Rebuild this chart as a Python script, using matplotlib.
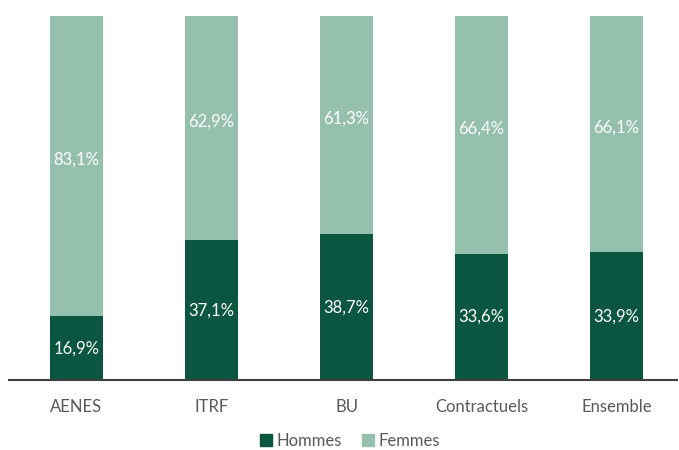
import matplotlib
matplotlib.use("Agg")
import matplotlib.pyplot as plt
from matplotlib.patches import Patch

categories = ["AENES", "ITRF", "BU", "Contractuels", "Ensemble"]
hommes = [16.9, 37.1, 38.7, 33.6, 33.9]
femmes = [83.1, 62.9, 61.3, 66.4, 66.1]

c_h = "#0B5641"
c_f = "#96C0AE"

plt.rcParams['font.family'] = ['Lato', 'DejaVu Sans']

fig = plt.figure(figsize=(6.79, 4.5), dpi=100)
ax = fig.add_axes([9/679, 70/450, 668/679, 364/450])
x = list(range(len(categories)))
w = 0.393
ax.bar(x, hommes, width=w, color=c_h)
ax.bar(x, femmes, width=w, bottom=hommes, color=c_f)
for i in x:
    ax.text(i, hommes[i]/2, f"{hommes[i]:.1f}%".replace(".", ","), ha="center", va="center",
            color="white", fontsize=12)
    ax.text(i, hommes[i] + femmes[i]/2, f"{femmes[i]:.1f}%".replace(".", ","), ha="center", va="center",
            color="white", fontsize=12)
ax.set_xlim(-0.5, 4.448)
ax.set_ylim(0, 96.7)
ax.set_yticks([])
ax.set_xticks(x)
ax.set_xticklabels(categories, fontsize=12, color="#595959")
ax.tick_params(axis="x", length=0, pad=14)
for s in ["top", "right", "left"]:
    ax.spines[s].set_visible(False)
ax.spines["bottom"].set_color("#404040")
ax.spines["bottom"].set_linewidth(1.5)

handles = [Patch(color=c_h, label="Hommes"), Patch(color=c_f, label="Femmes")]
fig.legend(handles=handles, loc="center", bbox_to_anchor=(350/679, 1 - 441/450), ncol=2,
           frameon=False, fontsize=12, handlelength=0.7, handleheight=0.7, handletextpad=0.3,
           columnspacing=1.2, labelcolor="#595959")

fig.savefig("out.png", dpi=100)
